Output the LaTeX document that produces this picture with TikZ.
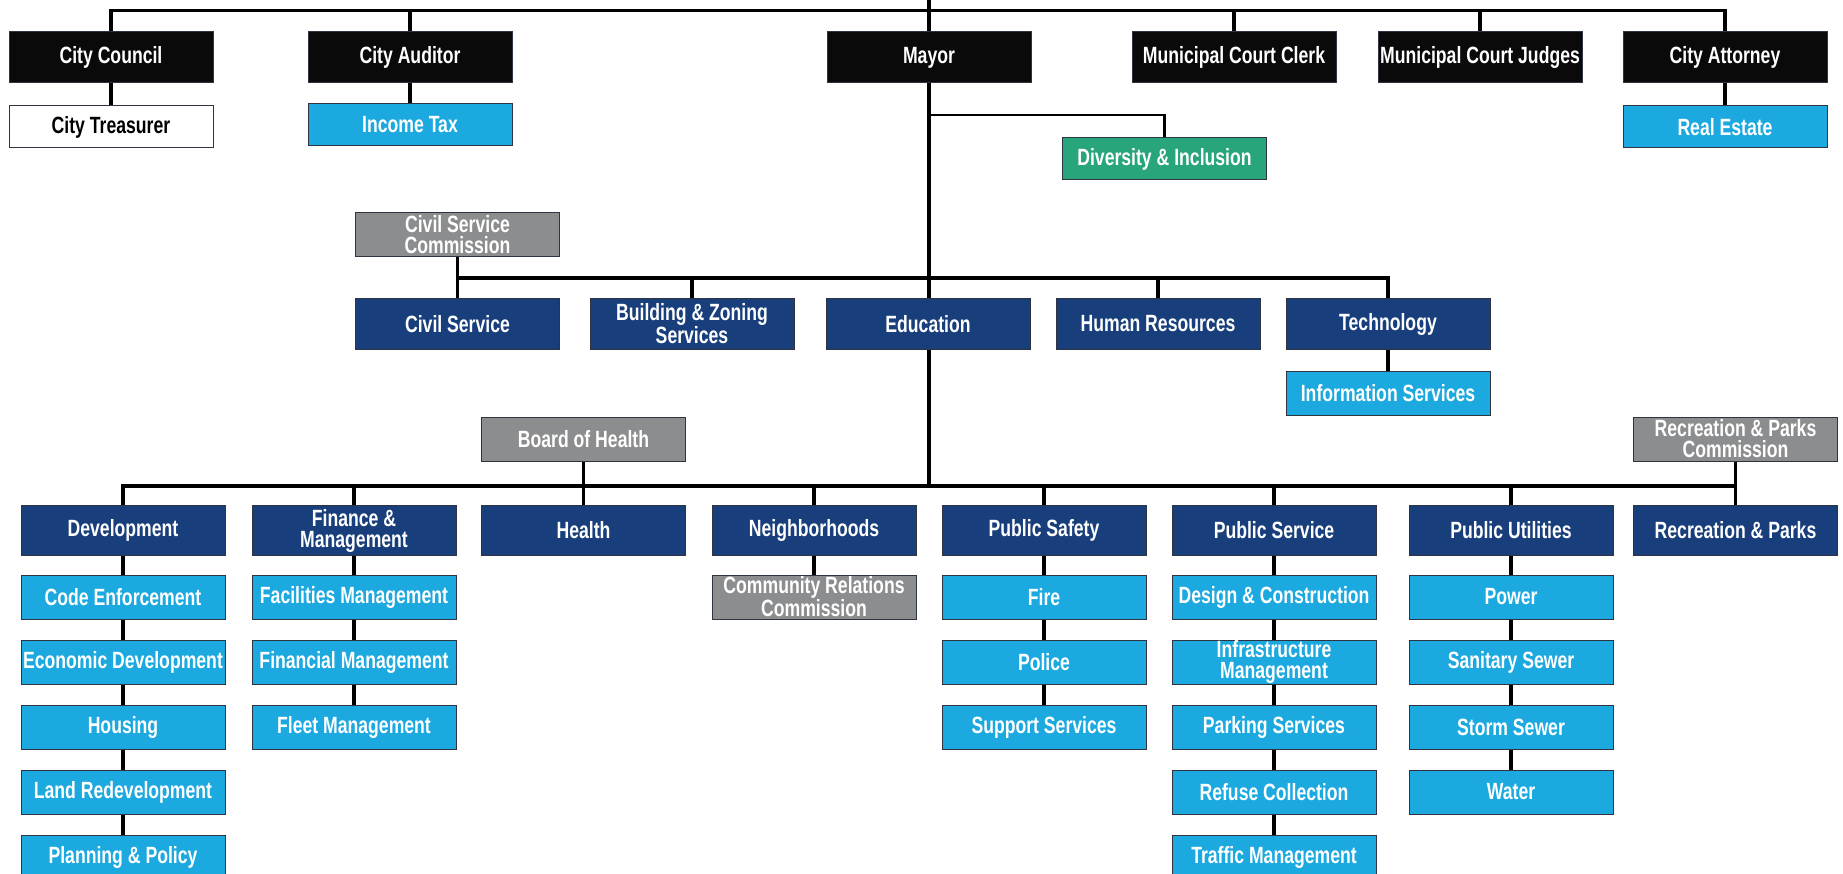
\documentclass[tikz,border=0pt]{standalone}
\usepackage{fontspec}
\usepackage{tikz}
\usetikzlibrary{positioning}
\newfontfamily\orgfont{Liberation Sans}[FakeStretch=0.75]
\definecolor{ink}{HTML}{0A0A0A}
\definecolor{navy}{HTML}{183F7B}
\definecolor{sky}{HTML}{1BA9E0}
\definecolor{slate}{HTML}{8C8D8F}
\definecolor{jade}{HTML}{28A57B}
\definecolor{rim}{HTML}{2E3440}

\begin{document}
\begin{tikzpicture}[
  x=1pt,y=-1pt,
  unit/.style={draw=rim,line width=1pt,minimum width=204pt,minimum height=51pt,
               inner sep=0pt,align=center,text=white,
               font=\orgfont\bfseries\fontsize{23.5}{21}\selectfont},
  office/.style={unit,fill=ink},
  dept/.style={unit,fill=navy,minimum height=50pt},
  division/.style={unit,fill=sky,minimum height=44pt},
  board/.style={unit,fill=slate,minimum height=44pt},
  wire/.style={line width=3.2pt,color=black}
]
\useasboundingbox (0,0) rectangle (1843,874);

\node[office] (council) at (111,57.5) {City Council};
\node[office] (auditor) at (410,57.5) {City Auditor};
\node[office] (mayor) at (929,57.5) {Mayor};
\node[office] (clerk) at (1234,57.5) {Municipal Court Clerk};
\node[office] (judges) at (1480,57.5) {Municipal Court Judges};
\node[office] (attorney) at (1725,57.5) {City Attorney};

\node[division,fill=white,text=black,minimum height=42pt,below=22pt of council] (treasurer) {City Treasurer};
\node[division,minimum height=42pt,below=20pt of auditor] (incometax) {Income Tax};
\node[division,minimum height=42pt,below=22pt of attorney] (realestate) {Real Estate};
\node[division,fill=jade,minimum height=42pt] (diversity) at (1164.5,159) {Diversity \& Inclusion};

\node[board] (csc) at (457.5,235) {Civil Service\\Commission};
\node[dept] (civil) at (457.5,324) {Civil Service};
\node[dept] (building) at (692,324) {Building \& Zoning\\Services};
\node[dept] (education) at (928,324) {Education};
\node[dept] (hr) at (1158,324) {Human Resources};
\node[dept] (tech) at (1388,324) {Technology};
\node[division,below=21pt of tech] (infoserv) {Information Services};

\node[board] (boh) at (583.5,439) {Board of Health};
\node[board] (rpc) at (1735.5,439) {Recreation \& Parks\\Commission};

\node[dept] (dev) at (123,530.5) {Development};
\node[dept] (finance) at (354,530.5) {Finance \&\\Management};
\node[dept] (health) at (583.5,530.5) {Health};
\node[dept] (neigh) at (814,530.5) {Neighborhoods};
\node[dept] (safety) at (1044,530.5) {Public Safety};
\node[dept] (pubserv) at (1274,530.5) {Public Service};
\node[dept] (utilities) at (1511,530.5) {Public Utilities};
\node[dept] (recparks) at (1735.5,530.5) {Recreation \& Parks};

\node[division,below=18.5pt of dev] (codeenf) {Code Enforcement};
\node[division,below=20pt of codeenf] (econdev) {Economic Development};
\node[division,below=20pt of econdev] (housing) {Housing};
\node[division,below=20pt of housing] (landredev) {Land Redevelopment};
\node[division,below=20pt of landredev] (planning) {Planning \& Policy};

\node[division,below=18.5pt of finance] (facilities) {Facilities Management};
\node[division,below=20pt of facilities] (financial) {Financial Management};
\node[division,below=20pt of financial] (fleet) {Fleet Management};

\node[board,below=18.5pt of neigh] (crc) {Community Relations\\Commission};

\node[division,below=18.5pt of safety] (fire) {Fire};
\node[division,below=20pt of fire] (police) {Police};
\node[division,below=20pt of police] (support) {Support Services};

\node[division,below=18.5pt of pubserv] (design) {Design \& Construction};
\node[division,below=20pt of design] (infra) {Infrastructure\\Management};
\node[division,below=20pt of infra] (parking) {Parking Services};
\node[division,below=20pt of parking] (refuse) {Refuse Collection};
\node[division,below=20pt of refuse] (traffic) {Traffic Management};

\node[division,below=18.5pt of utilities] (power) {Power};
\node[division,below=20pt of power] (sanitary) {Sanitary Sewer};
\node[division,below=20pt of sanitary] (storm) {Storm Sewer};
\node[division,below=20pt of storm] (water) {Water};

\coordinate (pagetop) at (0,0);
\coordinate (topbus) at (0,10.5);
\coordinate (divbus) at (0,115);
\coordinate (midbus) at (0,278);
\coordinate (lowbus) at (0,486);

\draw[wire] (council.north) |- (topbus -| attorney.north) -- (attorney.north);
\draw[wire] (auditor.north) -- (auditor.north |- topbus);
\draw[wire] (clerk.north) -- (clerk.north |- topbus);
\draw[wire] (judges.north) -- (judges.north |- topbus);
\draw[wire] (mayor.north |- pagetop) -- (mayor.north);
\draw[wire] (council) -- (treasurer);
\draw[wire] (auditor) -- (incometax);
\draw[wire] (attorney) -- (realestate);
\draw[wire] (mayor.south) -- (mayor.south |- education.north);
\draw[wire,line width=2.4pt] (mayor.south |- divbus) -| (diversity.north);

\draw[wire] (csc) -- (civil);
\draw[wire] (csc.south |- midbus) -| (tech.north);
\draw[wire] (building.north) -- (building.north |- midbus);
\draw[wire] (hr.north) -- (hr.north |- midbus);
\draw[wire] (tech) -- (infoserv);

\draw[wire] (mayor.south |- education.south) -- (mayor.south |- lowbus);
\draw[wire] (dev.north) |- (lowbus -| recparks.north) -- (recparks.north);
\draw[wire] (boh) -- (health);
\draw[wire] (rpc) -- (recparks);
\draw[wire] (finance.north) -- (finance.north |- lowbus);
\draw[wire] (neigh.north) -- (neigh.north |- lowbus);
\draw[wire] (safety.north) -- (safety.north |- lowbus);
\draw[wire] (pubserv.north) -- (pubserv.north |- lowbus);
\draw[wire] (utilities.north) -- (utilities.north |- lowbus);

\draw[wire] (dev) -- (codeenf) -- (econdev) -- (housing) -- (landredev) -- (planning);
\draw[wire] (finance) -- (facilities) -- (financial) -- (fleet);
\draw[wire] (neigh) -- (crc);
\draw[wire] (safety) -- (fire) -- (police) -- (support);
\draw[wire] (pubserv) -- (design) -- (infra) -- (parking) -- (refuse) -- (traffic);
\draw[wire] (utilities) -- (power) -- (sanitary) -- (storm) -- (water);
\end{tikzpicture}
\end{document}
